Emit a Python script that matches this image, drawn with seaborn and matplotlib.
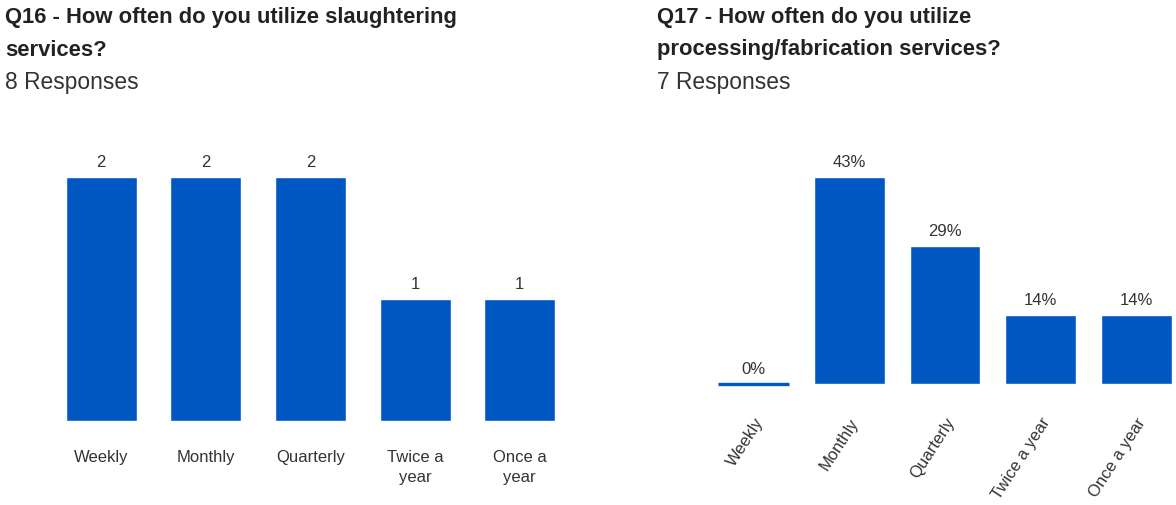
import matplotlib
matplotlib.use("Agg")
import matplotlib.pyplot as plt
import seaborn as sns

sns.set_style("white")
plt.rcParams["font.family"] = ["Liberation Sans", "DejaVu Sans"]

# Survey answers
categories = ["Weekly", "Monthly", "Quarterly", "Twice a year", "Once a year"]
q16_tick_labels = ["Weekly", "Monthly", "Quarterly", "Twice a\nyear", "Once a\nyear"]
q16_counts = [2, 2, 2, 1, 1]
q17_counts = [0, 3, 2, 1, 1]
q16_title = ["Q16 - How often do you utilize slaughtering", "services?"]
q17_title = ["Q17 - How often do you utilize", "processing/fabrication services?"]
q16_responses = 8
q17_responses = 7

q17_pct = [100 * c / q17_responses for c in q17_counts]

BAR = "#0057c2"
TXT = "#333333"
W, H = 1176, 506

fig = plt.figure(figsize=(W / 100, H / 100), dpi=100)


def px_axes(left, top, right, bottom):
    return fig.add_axes([left / W, 1 - bottom / H, (right - left) / W, (bottom - top) / H])


def header(x, lines, responses):
    for i, line in enumerate(lines):
        fig.text(x / W, 1 - (17 + 33 * i) / H, line, fontsize=15.8, fontweight="bold",
                 color="#222222", va="center", ha="left")
    fig.text(x / W, 1 - 83 / H, f"{responses} Responses", fontsize=16.4,
             color=TXT, va="center", ha="left")


def clean(ax):
    ax.set_xlabel("")
    ax.set_ylabel("")
    ax.set_yticks([])
    ax.tick_params(axis="x", length=0, colors=TXT)
    for s in ax.spines.values():
        s.set_visible(False)
    ax.set_xlim(-0.5, 4.5)


# Q16: counts
ax1 = px_axes(49, 178, 572, 422)
sns.barplot(x=categories, y=q16_counts, color=BAR, saturation=1, width=0.68, ax=ax1)
clean(ax1)
ax1.set_ylim(0, max(q16_counts))
ax1.set_xticks(range(len(categories)))
ax1.set_xticklabels(q16_tick_labels, fontsize=12, color=TXT, linespacing=1.45)
ax1.tick_params(axis="x", pad=20)
for i, v in enumerate(q16_counts):
    ax1.annotate(f"{v}", (i, v), xytext=(0, 6), textcoords="offset points",
                 ha="center", va="bottom", fontsize=12, color=TXT, annotation_clip=False)
header(5, q16_title, q16_responses)

# Q17: share of responses
ax2 = px_axes(706, 178, 1184, 385)
sns.barplot(x=categories, y=q17_pct, color=BAR, saturation=1, width=0.74, ax=ax2)
# empty categories still show a thin stroke along the baseline
for p in list(ax2.patches):
    if p.get_height() == 0:
        x0 = p.get_x()
        ax2.plot([x0, x0 + p.get_width()], [0, 0], color=BAR, lw=2.4,
                 solid_capstyle="butt", clip_on=False, zorder=5)
clean(ax2)
ax2.set_ylim(0, max(q17_pct))
ax2.set_xticks(range(len(categories)))
ax2.set_xticklabels(categories, fontsize=12, color=TXT, rotation=57,
                    ha="right", rotation_mode="anchor")
ax2.tick_params(axis="x", pad=22)
for i, v in enumerate(q17_pct):
    ax2.annotate(f"{round(v)}%", (i, v), xytext=(0, 6), textcoords="offset points",
                 ha="center", va="bottom", fontsize=12, color=TXT, annotation_clip=False)
header(657, q17_title, q17_responses)

fig.savefig("out.png", dpi=100)
